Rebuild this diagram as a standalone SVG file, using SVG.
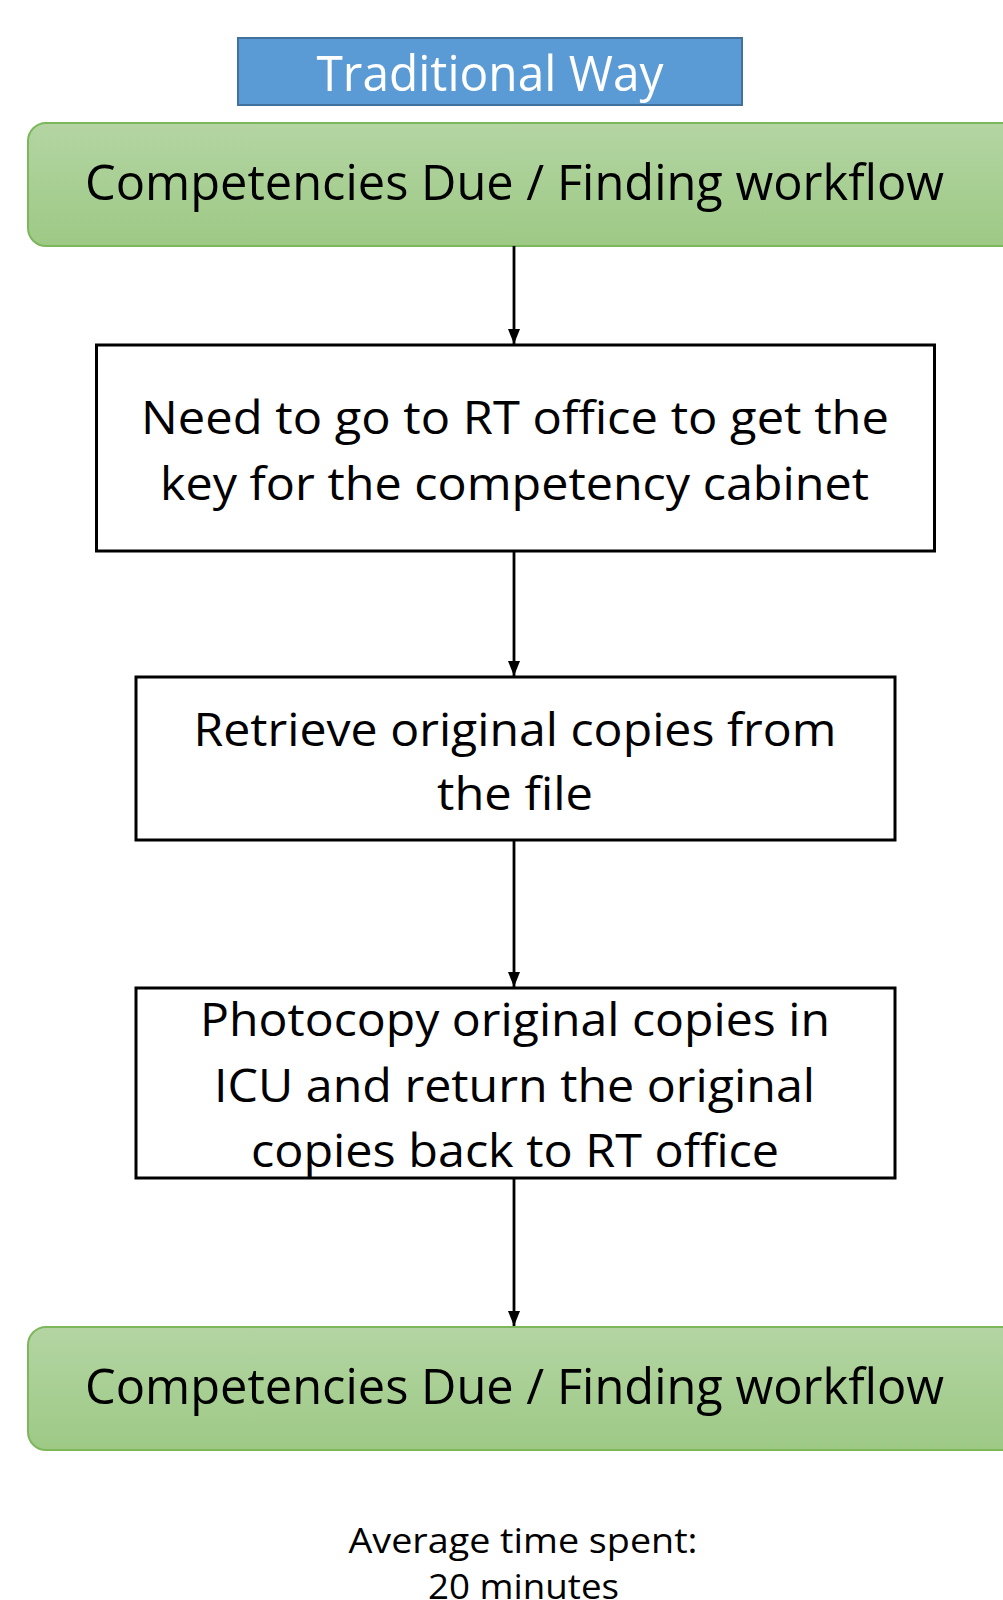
<svg xmlns="http://www.w3.org/2000/svg" width="1003" height="1600" viewBox="0 0 1003 1600">
<defs>
<linearGradient id="gg" x1="0" y1="0" x2="0" y2="1">
<stop offset="0" stop-color="#B4D5A3"/>
<stop offset="1" stop-color="#9DC985"/>
</linearGradient>
<marker id="ah" markerWidth="15" markerHeight="12" refX="15" refY="6" orient="auto" markerUnits="userSpaceOnUse" viewBox="0 0 15 12">
<path d="M0,0 L15,6 L0,12 Z" fill="#000"/>
</marker>
<style>
.t{font-family:"Open Sans","Noto Sans","Liberation Sans",sans-serif;text-anchor:middle;fill:#000}
.big{font-size:49px}
.mid{font-size:45px}
.sm{font-size:35px}
.box{fill:#fff;stroke:#000;stroke-width:3}
.green{fill:url(#gg);stroke:#7DB75C;stroke-width:2}
.conn{stroke:#000;stroke-width:2.8;fill:none}
</style>
</defs>
<rect width="1003" height="1600" fill="#fff"/>
<g id="title">
<rect x="238" y="38" width="504" height="67" fill="#5B9BD5" stroke="#41719C" stroke-width="2"/>
<text class="t big" x="490" y="91" style="fill:#fff" textLength="347" lengthAdjust="spacingAndGlyphs">Traditional Way</text>
</g>
<g id="start">
<rect class="green" x="28" y="123" width="992" height="123" rx="18"/>
<text class="t big" x="514.5" y="200" textLength="859" lengthAdjust="spacingAndGlyphs">Competencies Due / Finding workflow</text>
</g>
<g id="step1">
<rect class="box" x="96.5" y="345" width="838" height="206"/>
<text class="t mid" x="515" y="434" textLength="748" lengthAdjust="spacingAndGlyphs">Need to go to RT office to get the</text>
<text class="t mid" x="514.5" y="500" textLength="709" lengthAdjust="spacingAndGlyphs">key for the competency cabinet</text>
</g>
<g id="step2">
<rect class="box" x="136" y="677" width="759" height="163"/>
<text class="t mid" x="515" y="746" textLength="643" lengthAdjust="spacingAndGlyphs">Retrieve original copies from</text>
<text class="t mid" x="515" y="810" textLength="156" lengthAdjust="spacingAndGlyphs">the file</text>
</g>
<g id="step3">
<rect class="box" x="136" y="988" width="759" height="190"/>
<text class="t mid" x="515" y="1036" textLength="630" lengthAdjust="spacingAndGlyphs">Photocopy original copies in</text>
<text class="t mid" x="514.5" y="1102" textLength="601" lengthAdjust="spacingAndGlyphs">ICU and return the original</text>
<text class="t mid" x="515" y="1167" textLength="528" lengthAdjust="spacingAndGlyphs">copies back to RT office</text>
</g>
<g id="end">
<rect class="green" x="28" y="1327" width="992" height="123" rx="18"/>
<text class="t big" x="514.5" y="1404" textLength="859" lengthAdjust="spacingAndGlyphs">Competencies Due / Finding workflow</text>
</g>
<g id="note">
<text class="t sm" x="523" y="1553" textLength="349" lengthAdjust="spacingAndGlyphs">Average time spent:</text>
<text class="t sm" x="523.5" y="1599" textLength="191" lengthAdjust="spacingAndGlyphs">20 minutes</text>
</g>
<g id="connectors">
<line class="conn" x1="514" y1="246" x2="514" y2="344" marker-end="url(#ah)"/>
<line class="conn" x1="514" y1="551" x2="514" y2="676" marker-end="url(#ah)"/>
<line class="conn" x1="514" y1="840" x2="514" y2="987" marker-end="url(#ah)"/>
<line class="conn" x1="514" y1="1178" x2="514" y2="1326" marker-end="url(#ah)"/>
</g>
</svg>
